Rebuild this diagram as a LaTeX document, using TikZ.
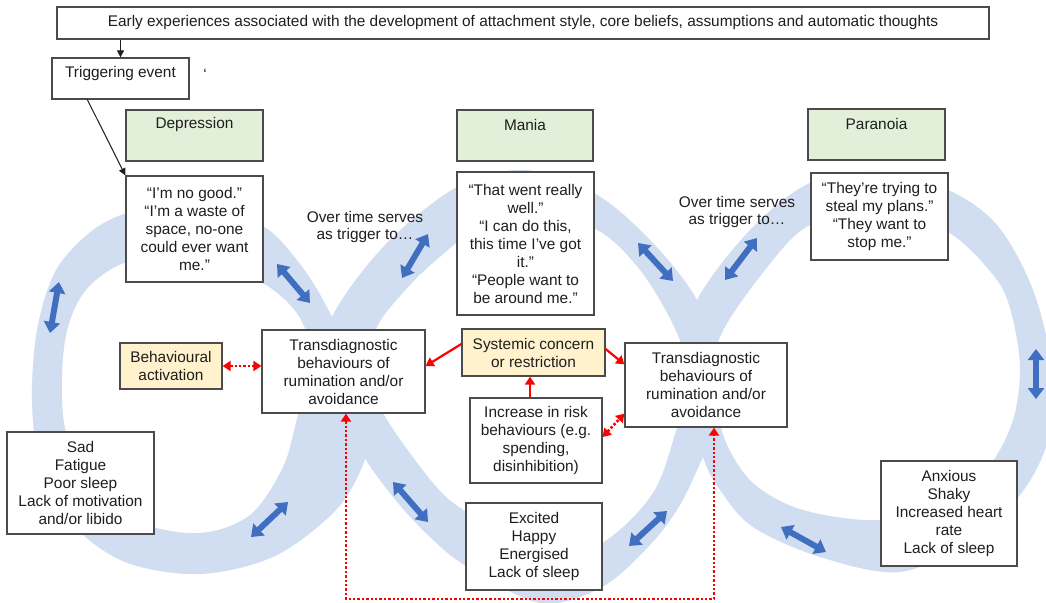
\documentclass[tikz,border=0pt]{standalone}
\usepackage{fontspec}
\setmainfont{Liberation Sans}
\usetikzlibrary{arrows.meta}
\definecolor{ringblue}{RGB}{209,221,240}
\definecolor{arrowblue}{RGB}{64,110,192}
\definecolor{bordergray}{RGB}{75,75,75}
\definecolor{greenfill}{RGB}{226,239,217}
\definecolor{yellowfill}{RGB}{255,242,204}
\definecolor{txt}{RGB}{30,30,30}
\newcommand\diafont{\fontsize{15.4pt}{18pt}\selectfont}
\tikzset{
  every node/.style={font=\diafont, text=txt},
  box/.style={draw=bordergray, line width=1.3pt, fill=white, inner sep=0pt, align=center},
  greenbox/.style={box, fill=greenfill},
  yellowbox/.style={box, fill=yellowfill},
  plain/.style={inner sep=0pt, align=center},
  ring/.style={fill=ringblue, even odd rule},
  blk/.style={draw=txt, line width=1pt, -{Triangle[width=7pt,length=7pt]}},
  redsolid/.style={draw=red, line width=2.2pt, -{Triangle[width=10pt,length=8pt]}},
  reddot/.style={draw=red, line width=2.6pt, dash pattern=on 2.4pt off 2pt,
     {Triangle[width=10pt,length=8pt]}-{Triangle[width=10pt,length=8pt]}},
  bluearr/.style={draw=arrowblue, line width=6pt,
     {Triangle[width=16pt,length=11pt]}-{Triangle[width=16pt,length=11pt]}},
}
\begin{document}
\begin{tikzpicture}[x=1pt, y=-1pt]
\clip (0,0) rectangle (1046,602);
\fill[white] (0,0) rectangle (1046,602);
% rings
\fill[ring] plot[smooth cycle, tension=0.55] coordinates {(32,400) (37,330) (55,272) (88,234) (127,213) (195,201) (263,226) (303,268) (332,317) (357,375) (368,425) (364,462) (336,510) (275,556) (200,574) (125,562) (70,522) (40,465)}
  plot[smooth cycle, tension=0.55] coordinates {(62,400) (66,335) (86,290) (127,262) (195,254) (263,283) (300,318) (312,365) (298,415) (283,467) (250,515) (200,533) (140,523) (95,492) (70,447)};
\fill[ring] plot[smooth cycle, tension=0.55] coordinates {(332,317) (385,245) (457,187) (525,170) (594,193) (650,240) (697,300) (718,365) (718,425) (703,457) (680,505) (650,545) (602,587) (540,603) (466,566) (430,537) (398,503) (366,460) (340,410) (330,365)}
  plot[smooth cycle, tension=0.55] coordinates {(377,327) (410,285) (441,256) (470,235) (525,222) (593,228) (640,270) (677,333) (690,385) (677,428) (653,493) (602,543) (540,560) (466,512) (433,483) (383,413) (372,370)};
\fill[ring] plot[smooth cycle, tension=0.55] coordinates {(697,300) (750,230) (810,183) (880,172) (948,190) (997,225) (1033,290) (1052,370) (1048,440) (1020,495) (970,540) (900,572) (820,557) (753,527) (720,490) (703,457) (690,400) (690,350)}
  plot[smooth cycle, tension=0.55] coordinates {(720,337) (765,270) (810,225) (880,212) (948,232) (997,280) (1013,320) (1020,370) (1013,420) (990,465) (950,500) (881,520) (803,510) (753,483) (725,440) (715,390)};

% boxes
\node[box, minimum width=932pt, minimum height=32pt] (top) at (523,23) {Early experiences associated with the development of attachment style, core beliefs, assumptions and automatic thoughts};
\node[box, minimum width=137pt, minimum height=41pt] (trig) at (120.5,78.5) {};
\node[plain] (trigtext) at (120.5,74) {Triggering event};
\node[plain] (tick) at (205,74) {\symbol{"60}};

\node[greenbox, minimum width=137pt, minimum height=51pt] (dep) at (194.5,135.5) {};
\node[plain] (deptext) at (194.5,125) {Depression};
\node[greenbox, minimum width=136pt, minimum height=51pt] (mania) at (525,135.5) {};
\node[plain] (maniatext) at (525,125) {Mania};
\node[greenbox, minimum width=137pt, minimum height=51pt] (para) at (876.5,134.5) {};
\node[plain] (paratext) at (876.5,124) {Paranoia};

\node[box, minimum width=137pt, minimum height=106pt] (depthought) at (194.5,229) {“I’m no good.”\\“I’m a waste of\\space, no-one\\could ever want\\me.”};
\node[box, minimum width=137pt, minimum height=143pt] (manthought) at (525.5,243.5) {“That went really\\well.”\\“I can do this,\\this time I’ve got\\it.”\\“People want to\\be around me.”};
\node[box, minimum width=137pt, minimum height=87pt] (parthought) at (879.5,216.5) {“They’re trying to\\steal my plans.”\\“They want to\\stop me.”};

\node[yellowbox, minimum width=102pt, minimum height=46pt] (beh) at (171,366) {Behavioural\\activation};
\node[box, minimum width=163pt, minimum height=83pt] (tdl) at (343.5,371.5) {Transdiagnostic\\behaviours of\\rumination and/or\\avoidance};
\node[yellowbox, minimum width=143pt, minimum height=47pt] (sys) at (533.5,352.5) {Systemic concern\\or restriction};
\node[box, minimum width=162pt, minimum height=84pt] (tdr) at (706,385) {Transdiagnostic\\behaviours of\\rumination and/or\\avoidance};
\node[box, minimum width=132pt, minimum height=85pt] (inc) at (536,440.5) {Increase in risk\\behaviours (e.g.\\spending,\\disinhibition)};
\node[box, minimum width=136pt, minimum height=87pt] (exc) at (534,546.5) {Excited\\Happy\\Energised\\Lack of sleep};
\node[box, minimum width=147pt, minimum height=102pt] (sad) at (80.5,483) {Sad\\Fatigue\\Poor sleep\\Lack of motivation\\and/or libido};
\node[box, minimum width=136pt, minimum height=105pt] (anx) at (949,513.5) {Anxious\\Shaky\\Increased heart\\rate\\Lack of sleep};

\node[plain, font=\fontsize{15.4pt}{17pt}\selectfont] (ot1) at (365,227) {Over time serves\\as trigger to…};
\node[plain, font=\fontsize{15.4pt}{17pt}\selectfont] (ot2) at (737,212) {Over time serves\\as trigger to…};

% black connectors
\draw[blk] (top.south -| trig.north) -- (trig.north);
\draw[blk] ([xshift=36pt]trig.south west) -- (depthought.north west);

% red connectors
\draw[reddot] (beh.east) -- (beh.east -| tdl.west);
\draw[redsolid] ([yshift=8.5pt]sys.west) -- ([yshift=5.5pt]tdl.east);
\draw[redsolid] ([yshift=3.5pt]sys.east) -- ([yshift=-22pt]tdr.north west);
\draw[redsolid] ([xshift=-6pt]inc.north) -- ([xshift=-6pt]inc.north |- sys.south);
\draw[reddot] ([yshift=3.5pt]inc.east) -- ([yshift=14pt]tdr.south west);
\coordinate (lp1) at (346,599);
\coordinate (lp2) at (714,599);
\draw[reddot] ([xshift=2.5pt]tdl.south) -- (lp1) -- (lp2) -- ([xshift=8pt]tdr.south);

% blue double arrows
\coordinate (a1) at (59,282);   \coordinate (a2) at (50,333);
\coordinate (b1) at (277,264);  \coordinate (b2) at (310,303);
\coordinate (c1) at (428,234);  \coordinate (c2) at (402,278);
\coordinate (d1) at (638,243);  \coordinate (d2) at (673,281);
\coordinate (e1) at (757,238);  \coordinate (e2) at (725,280);
\coordinate (f1) at (1036,349); \coordinate (f2) at (1036,399);
\coordinate (g1) at (781,527);  \coordinate (g2) at (826,552);
\coordinate (h1) at (667,511);  \coordinate (h2) at (629,546);
\coordinate (i1) at (393,482);  \coordinate (i2) at (428,522);
\coordinate (j1) at (288,502);  \coordinate (j2) at (251,537);
\foreach \p in {a,b,c,d,e,f,g,h,i,j} {\draw[bluearr] (\p1) -- (\p2);}
\end{tikzpicture}
\end{document}
